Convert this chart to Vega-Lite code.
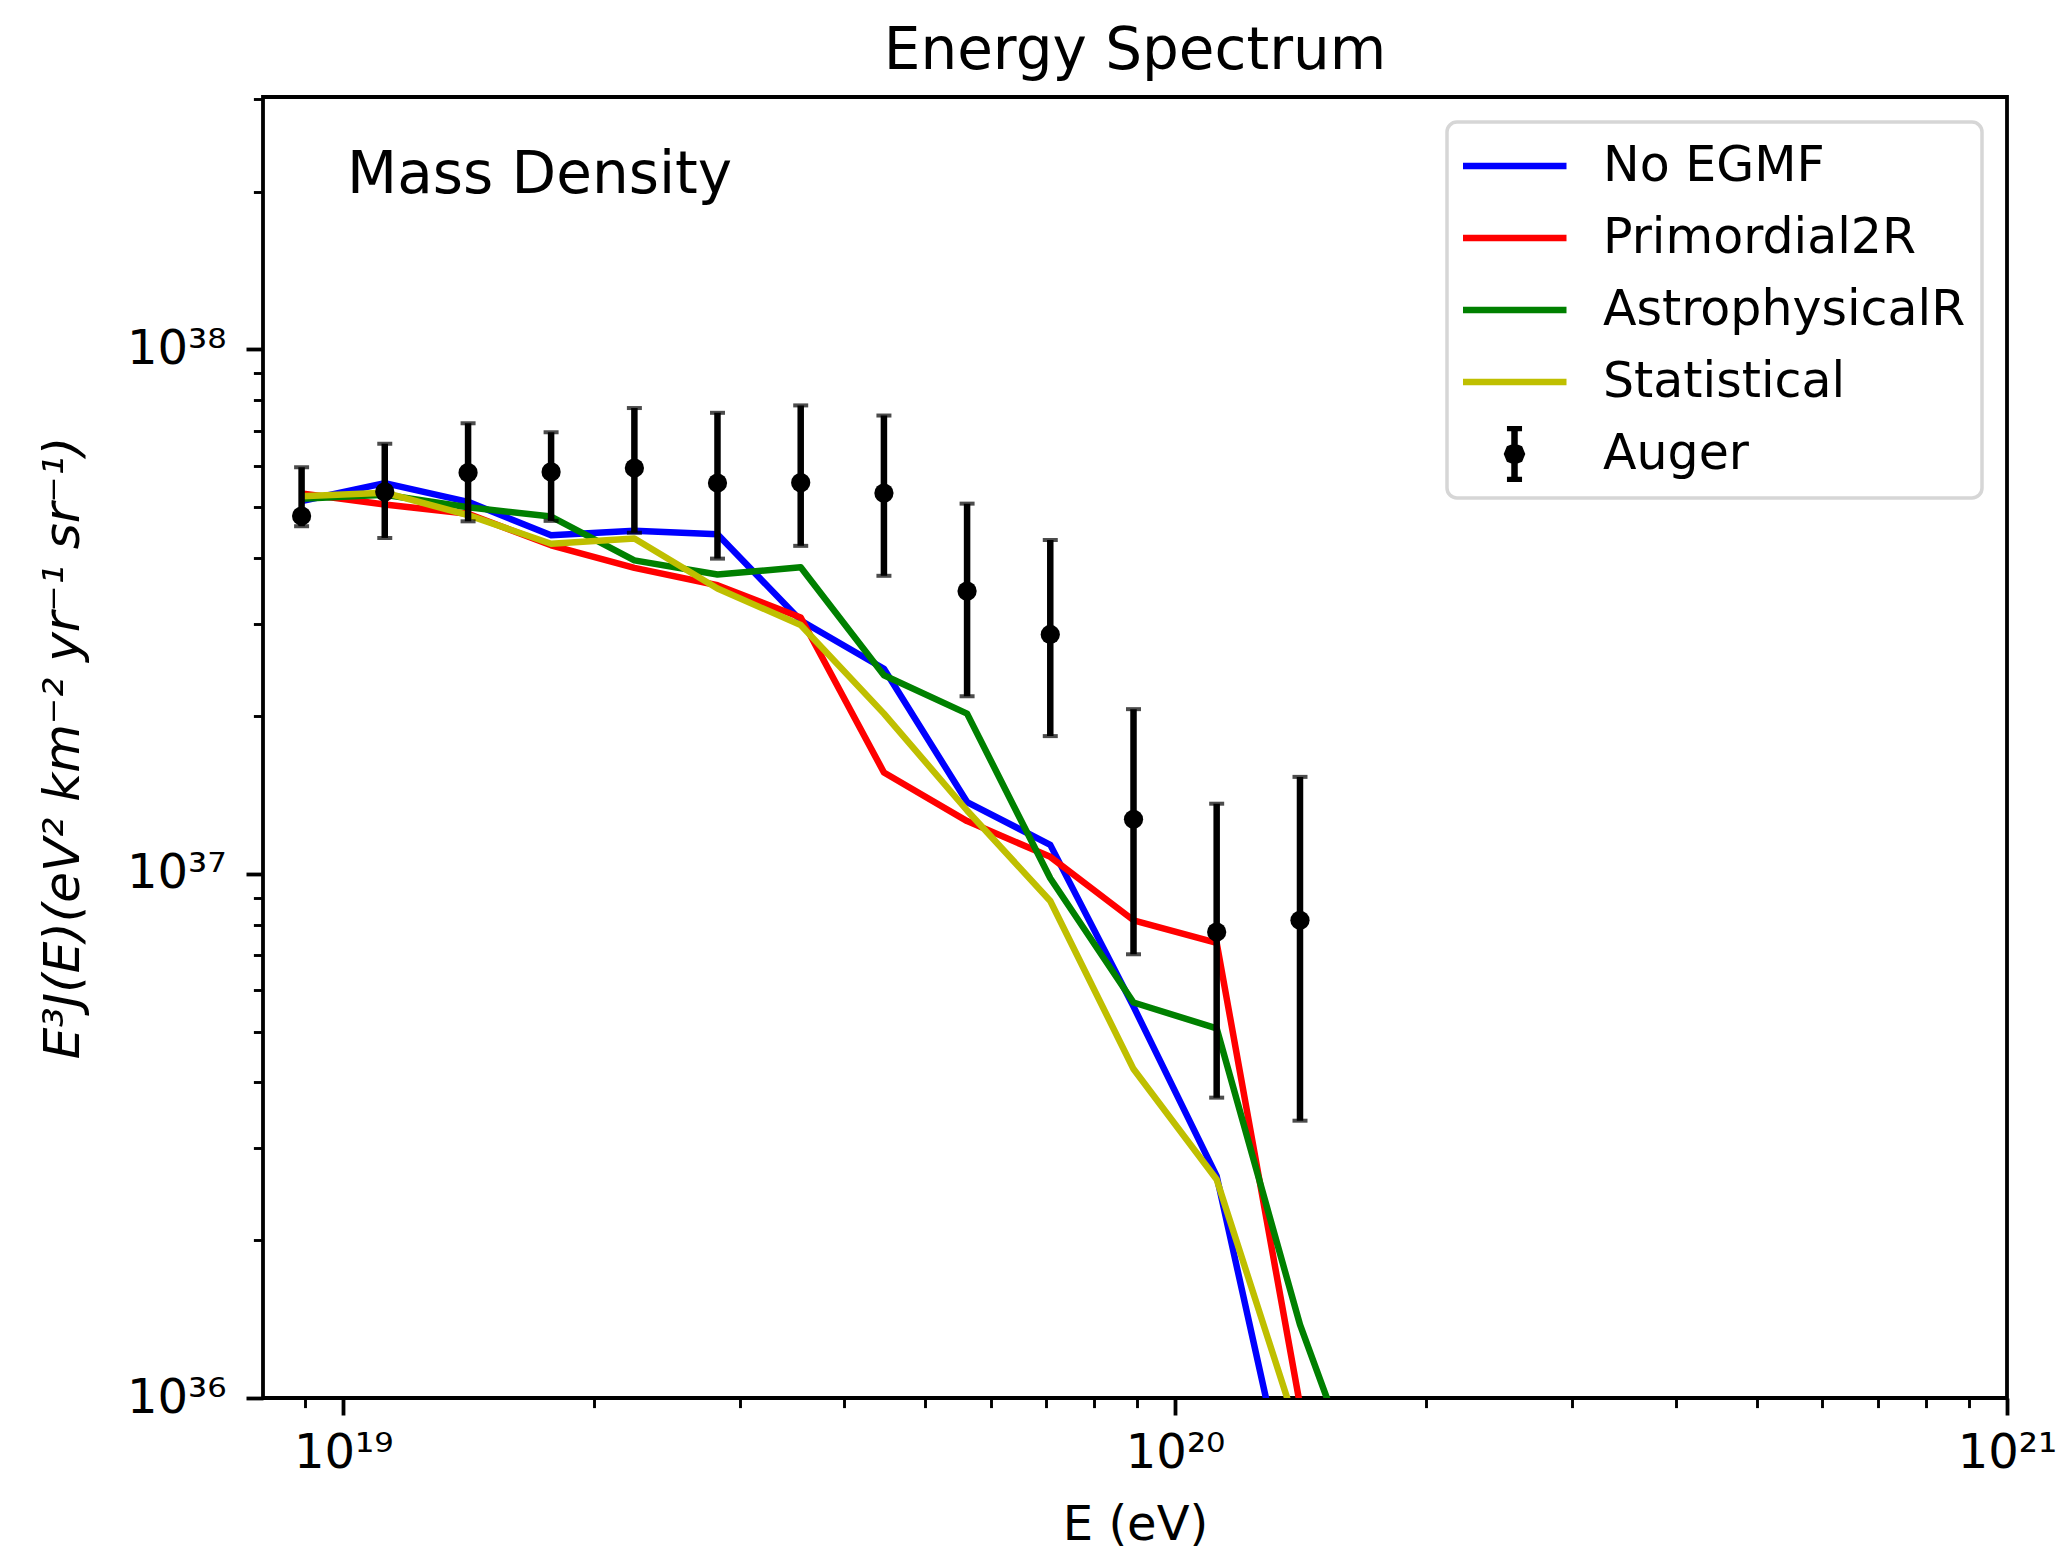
{
  "$schema": "https://vega.github.io/schema/vega-lite/v6.json",
  "width": 1744,
  "height": 1301,
  "autosize": {"type": "none"},
  "padding": {"left": 263, "top": 97, "right": 54, "bottom": 152},
  "background": "white",
  "title": {
    "text": "Energy Spectrum",
    "font": "DejaVu Sans",
    "fontSize": 58,
    "fontWeight": "normal",
    "color": "black",
    "anchor": "middle",
    "frame": "group",
    "baseline": "bottom",
    "offset": -64
  },
  "datasets": {
    "models": [
      {"E": 8.913e18, "value": 5.14e37, "series": "No EGMF"},
      {"E": 1.122e19, "value": 5.56e37, "series": "No EGMF"},
      {"E": 1.413e19, "value": 5.12e37, "series": "No EGMF"},
      {"E": 1.778e19, "value": 4.42e37, "series": "No EGMF"},
      {"E": 2.239e19, "value": 4.51e37, "series": "No EGMF"},
      {"E": 2.818e19, "value": 4.44e37, "series": "No EGMF"},
      {"E": 3.548e19, "value": 3.04e37, "series": "No EGMF"},
      {"E": 4.467e19, "value": 2.46e37, "series": "No EGMF"},
      {"E": 5.623e19, "value": 1.37e37, "series": "No EGMF"},
      {"E": 7.079e19, "value": 1.135e37, "series": "No EGMF"},
      {"E": 8.913e19, "value": 5.58e36, "series": "No EGMF"},
      {"E": 1.122e20, "value": 2.65e36, "series": "No EGMF"},
      {"E": 1.413e20, "value": 5.1e35, "series": "No EGMF"},
      {"E": 8.913e18, "value": 5.31e37, "series": "Primordial2R"},
      {"E": 1.122e19, "value": 5.06e37, "series": "Primordial2R"},
      {"E": 1.413e19, "value": 4.86e37, "series": "Primordial2R"},
      {"E": 1.778e19, "value": 4.23e37, "series": "Primordial2R"},
      {"E": 2.239e19, "value": 3.83e37, "series": "Primordial2R"},
      {"E": 2.818e19, "value": 3.55e37, "series": "Primordial2R"},
      {"E": 3.548e19, "value": 3.08e37, "series": "Primordial2R"},
      {"E": 4.467e19, "value": 1.56e37, "series": "Primordial2R"},
      {"E": 5.623e19, "value": 1.26e37, "series": "Primordial2R"},
      {"E": 7.079e19, "value": 1.077e37, "series": "Primordial2R"},
      {"E": 8.913e19, "value": 8.15e36, "series": "Primordial2R"},
      {"E": 1.122e20, "value": 7.38e36, "series": "Primordial2R"},
      {"E": 1.413e20, "value": 9.7e35, "series": "Primordial2R"},
      {"E": 8.913e18, "value": 5.19e37, "series": "AstrophysicalR"},
      {"E": 1.122e19, "value": 5.28e37, "series": "AstrophysicalR"},
      {"E": 1.413e19, "value": 5.0e37, "series": "AstrophysicalR"},
      {"E": 1.778e19, "value": 4.8e37, "series": "AstrophysicalR"},
      {"E": 2.239e19, "value": 3.96e37, "series": "AstrophysicalR"},
      {"E": 2.818e19, "value": 3.72e37, "series": "AstrophysicalR"},
      {"E": 3.548e19, "value": 3.84e37, "series": "AstrophysicalR"},
      {"E": 4.467e19, "value": 2.39e37, "series": "AstrophysicalR"},
      {"E": 5.623e19, "value": 2.02e37, "series": "AstrophysicalR"},
      {"E": 7.079e19, "value": 9.8e36, "series": "AstrophysicalR"},
      {"E": 8.913e19, "value": 5.68e36, "series": "AstrophysicalR"},
      {"E": 1.122e20, "value": 5.07e36, "series": "AstrophysicalR"},
      {"E": 1.413e20, "value": 1.38e36, "series": "AstrophysicalR"},
      {"E": 1.778e20, "value": 5.1e35, "series": "AstrophysicalR"},
      {"E": 8.913e18, "value": 5.25e37, "series": "Statistical"},
      {"E": 1.122e19, "value": 5.33e37, "series": "Statistical"},
      {"E": 1.413e19, "value": 4.83e37, "series": "Statistical"},
      {"E": 1.778e19, "value": 4.26e37, "series": "Statistical"},
      {"E": 2.239e19, "value": 4.36e37, "series": "Statistical"},
      {"E": 2.818e19, "value": 3.5e37, "series": "Statistical"},
      {"E": 3.548e19, "value": 2.98e37, "series": "Statistical"},
      {"E": 4.467e19, "value": 2.02e37, "series": "Statistical"},
      {"E": 5.623e19, "value": 1.32e37, "series": "Statistical"},
      {"E": 7.079e19, "value": 8.87e36, "series": "Statistical"},
      {"E": 8.913e19, "value": 4.24e36, "series": "Statistical"},
      {"E": 1.122e20, "value": 2.61e36, "series": "Statistical"},
      {"E": 1.413e20, "value": 8.4e35, "series": "Statistical"}
    ],
    "auger": [
      {"E": 8.913e18, "value": 4.81e37, "lo": 4.6e37, "hi": 5.96e37, "series": "Auger"},
      {"E": 1.122e19, "value": 5.35e37, "lo": 4.37e37, "hi": 6.61e37, "series": "Auger"},
      {"E": 1.413e19, "value": 5.82e37, "lo": 4.7e37, "hi": 7.23e37, "series": "Auger"},
      {"E": 1.778e19, "value": 5.84e37, "lo": 4.71e37, "hi": 6.95e37, "series": "Auger"},
      {"E": 2.239e19, "value": 5.94e37, "lo": 4.47e37, "hi": 7.73e37, "series": "Auger"},
      {"E": 2.818e19, "value": 5.56e37, "lo": 3.99e37, "hi": 7.57e37, "series": "Auger"},
      {"E": 3.548e19, "value": 5.57e37, "lo": 4.22e37, "hi": 7.82e37, "series": "Auger"},
      {"E": 4.467e19, "value": 5.32e37, "lo": 3.7e37, "hi": 7.48e37, "series": "Auger"},
      {"E": 5.623e19, "value": 3.46e37, "lo": 2.18e37, "hi": 5.08e37, "series": "Auger"},
      {"E": 7.079e19, "value": 2.86e37, "lo": 1.83e37, "hi": 4.33e37, "series": "Auger"},
      {"E": 8.913e19, "value": 1.27e37, "lo": 7.02e36, "hi": 2.06e37, "series": "Auger"},
      {"E": 1.122e20, "value": 7.74e36, "lo": 3.74e36, "hi": 1.36e37, "series": "Auger"},
      {"E": 1.413e20, "value": 8.15e36, "lo": 3.38e36, "hi": 1.53e37, "series": "Auger"}
    ],
    "notes": [
      {"note": "Mass Density"}
    ]
  },
  "layer": [
    {
      "data": {"name": "models"},
      "mark": {"type": "line", "strokeWidth": 6.5, "clip": true, "strokeJoin": "round"},
      "encoding": {
        "x": {
          "field": "E",
          "type": "quantitative",
          "scale": {"type": "log", "domain": [8.01e18, 1e21], "nice": false},
          "axis": {
            "title": "E (eV)",
            "values": [9e18, 1e19, 2e19, 3e19, 4e19, 5e19, 6e19, 7e19, 8e19, 9e19, 1e20, 2e20, 3e20, 4e20, 5e20, 6e20, 7e20, 8e20, 9e20, 1e21],
            "labelExpr": "round(log(datum.value)/LN10*1000)/1000 == 19 ? '10¹⁹' : round(log(datum.value)/LN10*1000)/1000 == 20 ? '10²⁰' : round(log(datum.value)/LN10*1000)/1000 == 21 ? '10²¹' : ''",
            "tickSize": {"condition": {"test": "abs(log(datum.value)/LN10 - round(log(datum.value)/LN10)) < 0.001", "value": 17}, "value": 9.6},
            "tickWidth": {"condition": {"test": "abs(log(datum.value)/LN10 - round(log(datum.value)/LN10)) < 0.001", "value": 3.8}, "value": 2.9},
            "labelPadding": 14,
            "titlePadding": 24
          }
        },
        "y": {
          "field": "value",
          "type": "quantitative",
          "scale": {"type": "log", "domain": [1e36, 3.03e38], "nice": false},
          "axis": {
            "title": "E³J(E)(eV² km⁻² yr⁻¹ sr⁻¹)",
            "titleFontStyle": "italic",
            "titleFontSize": 50,
            "values": [1e36, 2e36, 3e36, 4e36, 5e36, 6e36, 7e36, 8e36, 9e36, 1e37, 2e37, 3e37, 4e37, 5e37, 6e37, 7e37, 8e37, 9e37, 1e38, 2e38, 3e38],
            "labelExpr": "round(log(datum.value)/LN10*1000)/1000 == 36 ? '10³⁶' : round(log(datum.value)/LN10*1000)/1000 == 37 ? '10³⁷' : round(log(datum.value)/LN10*1000)/1000 == 38 ? '10³⁸' : ''",
            "tickSize": {"condition": {"test": "abs(log(datum.value)/LN10 - round(log(datum.value)/LN10)) < 0.001", "value": 17}, "value": 9.6},
            "tickWidth": {"condition": {"test": "abs(log(datum.value)/LN10 - round(log(datum.value)/LN10)) < 0.001", "value": 3.8}, "value": 2.9},
            "labelPadding": 20,
            "titlePadding": 38
          }
        },
        "color": {
          "field": "series",
          "type": "nominal",
          "sort": null,
          "scale": {"domain": ["No EGMF", "Primordial2R", "AstrophysicalR", "Statistical", "Auger"], "range": ["#0000ff", "#ff0000", "#008000", "#bfbf00", "#000000"]},
          "legend": {"title": null}
        }
      }
    },
    {
      "data": {"name": "auger"},
      "mark": {"type": "rule", "strokeWidth": 6.5, "color": "black"},
      "encoding": {
        "x": {"field": "E", "type": "quantitative"},
        "y": {"field": "lo", "type": "quantitative"},
        "y2": {"field": "hi"}
      }
    },
    {
      "data": {"name": "auger"},
      "mark": {"type": "tick", "orient": "horizontal", "size": 15, "thickness": 4, "color": "black"},
      "encoding": {
        "x": {"field": "E", "type": "quantitative"},
        "y": {"field": "lo", "type": "quantitative"}
      }
    },
    {
      "data": {"name": "auger"},
      "mark": {"type": "tick", "orient": "horizontal", "size": 15, "thickness": 4, "color": "black"},
      "encoding": {
        "x": {"field": "E", "type": "quantitative"},
        "y": {"field": "hi", "type": "quantitative"}
      }
    },
    {
      "data": {"name": "auger"},
      "mark": {"type": "point", "filled": true, "shape": "circle", "size": 370, "color": "black", "opacity": 1},
      "encoding": {
        "x": {"field": "E", "type": "quantitative"},
        "y": {"field": "value", "type": "quantitative"}
      }
    },
    {
      "data": {"name": "auger"},
      "mark": {"type": "point", "filled": false, "opacity": 0},
      "encoding": {
        "x": {"field": "E", "type": "quantitative"},
        "y": {"field": "value", "type": "quantitative"},
        "color": {
          "field": "series",
          "type": "nominal",
          "sort": null,
          "scale": {"domain": ["No EGMF", "Primordial2R", "AstrophysicalR", "Statistical", "Auger"], "range": ["#0000ff", "#ff0000", "#008000", "#bfbf00", "#000000"]},
          "legend": {"title": null}
        },
        "shape": {
          "field": "series",
          "type": "nominal",
          "sort": null,
          "scale": {"domain": ["No EGMF", "Primordial2R", "AstrophysicalR", "Statistical", "Auger"], "range": ["M-2,0L2,0", "M-2,0L2,0", "M-2,0L2,0", "M-2,0L2,0", "M0,-1L0,1M-0.29,-1L0.29,-1M-0.29,1L0.29,1M0.28,0L0.198,0.198L0,0.28L-0.198,0.198L-0.28,0L-0.198,-0.198L0,-0.28L0.198,-0.198ZM0.14,0L0.099,0.099L0,0.14L-0.099,0.099L-0.14,0L-0.099,-0.099L0,-0.14L0.099,-0.099Z"]},
          "legend": {"title": null}
        }
      }
    },
    {
      "data": {"name": "notes"},
      "mark": {"type": "text", "font": "DejaVu Sans", "fontSize": 58, "align": "left", "baseline": "alphabetic", "color": "black"},
      "encoding": {
        "x": {"datum": 1.011e19, "type": "quantitative"},
        "y": {"datum": 1.99e38, "type": "quantitative"},
        "text": {"field": "note", "type": "nominal"}
      }
    }
  ],
  "config": {
    "view": {"stroke": "black", "strokeWidth": 3.8},
    "axis": {
      "domain": false,
      "grid": false,
      "tickColor": "black",
      "labelFont": "DejaVu Sans",
      "labelFontSize": 48,
      "labelColor": "black",
      "labelFlush": false,
      "labelOverlap": false,
      "labelBound": false,
      "titleFont": "DejaVu Sans",
      "titleFontSize": 48,
      "titleFontWeight": "normal",
      "titleColor": "black"
    },
    "legend": {
      "orient": "top-right",
      "offset": 25,
      "labelFont": "DejaVu Sans",
      "labelFontSize": 49,
      "labelColor": "black",
      "labelOffset": 59,
      "labelLimit": 1000,
      "symbolSize": 2704,
      "symbolOffset": 22,
      "symbolStrokeWidth": 6.5,
      "symbolOpacity": 1,
      "clipHeight": 56,
      "padding": 16,
      "rowPadding": 16,
      "strokeColor": "#d6d6d6",
      "strokeWidth": 3.5,
      "fillColor": "rgba(255,255,255,0.8)",
      "cornerRadius": 10
    }
  }
}
